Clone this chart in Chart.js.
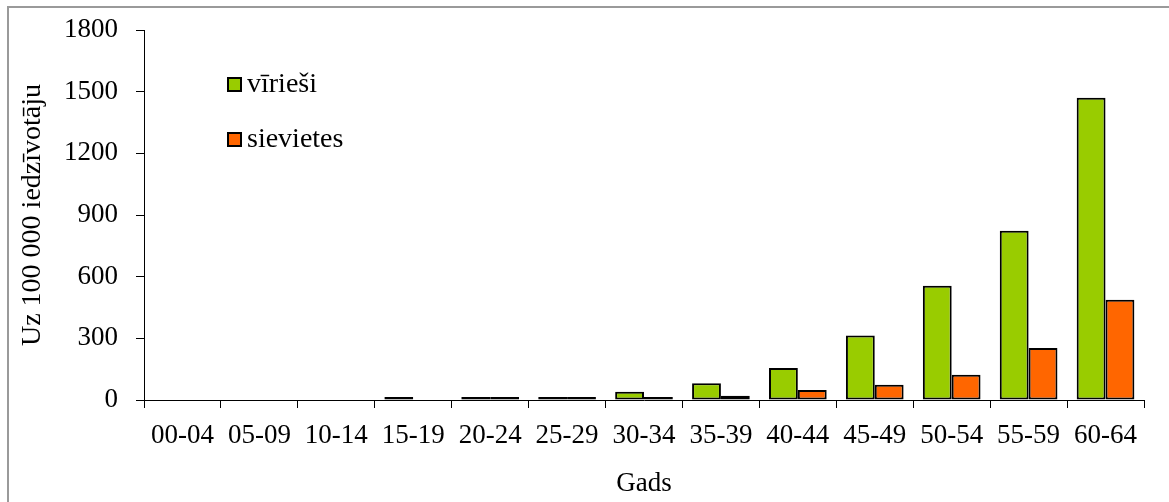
<!doctype html>
<html lang="lv">

<head>
    <title> Uz 100 000 iedzīvotāju </title>
    <meta charset="utf-8">
    <script src="https://cdn.jsdelivr.net/npm/chart.js"></script>
    <style>
        html, body { margin: 0; padding: 0; background: #fff; }
        .grafico { position: relative; width: 1169px; height: 502px; }
    </style>
</head>

<body>
    <div class="grafico">
        <canvas id="myChartCanvas1" width="1169" height="502"></canvas>
    </div>
</body>

</html>
<script>

    // vecuma grupas
    var grupas = ['00-04', '05-09', '10-14', '15-19', '20-24', '25-29', '30-34',
        '35-39', '40-44', '45-49', '50-54', '55-59', '60-64'];

    // null = nav stabiņa
    var virieši = [null, null, null, 2, 6, 10, 40, 81, 156, 314, 556, 823, 1470];
    var sievietes = [null, null, null, null, 3, 4, 6, 21, 49, 74, 123, 253, 488];

    var yTicks = [0, 300, 600, 900, 1200, 1500, 1800];

    var fonts = "'Liberation Serif', 'Times New Roman', serif";

    // pelēkā rāmja līnija augšā un pa kreisi
    const ramis = {
        id: 'ramis',
        beforeDraw(chart) {
            const c = chart.ctx;
            c.save();
            c.fillStyle = '#fff';
            c.fillRect(0, 0, chart.width, chart.height);
            c.strokeStyle = '#9a9a9a';
            c.lineWidth = 2;
            c.beginPath();
            c.moveTo(8, chart.height);
            c.lineTo(8, 7);
            c.lineTo(chart.width, 7);
            c.stroke();
            c.restore();
        }
    };

    // leģenda grafika iekšpusē
    const legenda = {
        id: 'legenda',
        afterDraw(chart) {
            const c = chart.ctx;
            const rindas = [84, 139];
            c.save();
            c.font = '28px ' + fonts;
            c.textBaseline = 'middle';
            chart.data.datasets.forEach(function (ds, i) {
                const y = rindas[i];
                c.fillStyle = ds.backgroundColor;
                c.fillRect(228, y - 6, 13, 13);
                c.strokeStyle = '#000';
                c.lineWidth = 2;
                c.strokeRect(228, y - 6, 13, 13);
                c.fillStyle = '#000';
                c.fillText(ds.label, 247, y + 1);
            });
            c.restore();
        }
    };

    const ctx = document.getElementById('myChartCanvas1');

    new Chart(ctx, {
        type: 'bar',
        data: {
            labels: grupas,
            datasets: [{
                label: 'vīrieši',
                data: virieši,
                backgroundColor: '#99CC00',
                borderColor: '#000',
                borderWidth: 2,
                borderSkipped: false
            }, {
                label: 'sievietes',
                data: sievietes,
                backgroundColor: '#FF6600',
                borderColor: '#000',
                borderWidth: 2,
                borderSkipped: false
            }]
        },
        options: {
            responsive: false,
            animation: false,
            devicePixelRatio: 1,
            layout: { padding: { left: 0, right: 25, top: 30, bottom: 0 } },
            datasets: {
                bar: { categoryPercentage: 0.75, barPercentage: 1.0, minBarLength: 3 }
            },
            plugins: {
                legend: { display: false },
                tooltip: { enabled: false }
            },
            scales: {
                x: {
                    afterFit: function (scale) { scale.height = 102; },
                    border: { display: true, color: '#000', width: 1 },
                    grid: {
                        display: true,
                        drawOnChartArea: false,
                        drawTicks: true,
                        tickLength: 8,
                        color: '#000'
                    },
                    ticks: {
                        color: '#000',
                        font: { family: fonts, size: 27 },
                        padding: 12,
                        maxRotation: 0,
                        autoSkip: false
                    },
                    title: {
                        display: true,
                        text: 'Gads',
                        color: '#000',
                        font: { family: fonts, size: 27 },
                        padding: { top: 0, bottom: 2 }
                    }
                },
                y: {
                    min: 0,
                    max: 1800,
                    afterFit: function (scale) {
                        scale.width = 144;
                        scale.paddingTop = 0;
                        scale.paddingBottom = 0;
                    },
                    afterBuildTicks: function (scale) {
                        scale.ticks = yTicks.map(function (v) { return { value: v }; });
                    },
                    border: { display: true, color: '#000', width: 1 },
                    grid: {
                        display: true,
                        drawOnChartArea: false,
                        drawTicks: true,
                        tickLength: 8,
                        color: '#000'
                    },
                    ticks: {
                        color: '#000',
                        font: { family: fonts, size: 27 },
                        padding: 18,
                        callback: function (v) { return String(v); }
                    },
                    title: {
                        display: true,
                        text: 'Uz 100 000 iedzīvotāju',
                        color: '#000',
                        font: { family: fonts, size: 28 },
                        padding: { top: 16, bottom: 0 }
                    }
                }
            }
        },
        plugins: [ramis, legenda]
    });

</script>
